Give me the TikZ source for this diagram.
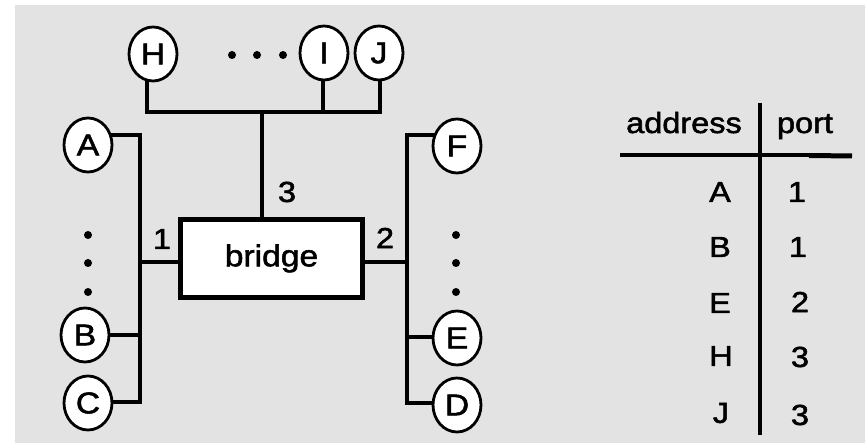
\documentclass[tikz,border=0pt]{standalone}
\usepackage{fontspec}
\setmainfont[FakeStretch=1.12,FakeBold=1.8]{Liberation Sans}
\usetikzlibrary{shapes.geometric}
\pgfdeclarelayer{back}
\pgfdeclarelayer{bg}
\pgfsetlayers{back,bg,main}
\definecolor{bggray}{HTML}{E3E3E3}
\begin{document}
\begin{tikzpicture}[x=1pt,y=-1pt,
  station/.style={draw, ellipse, fill=white, line width=2.8pt, minimum width=48pt, minimum height=54pt, inner sep=0pt, font=\fontsize{30}{32}\selectfont},
  wire/.style={line width=3.5pt},
  tline/.style={line width=3.5pt},
  lbl/.style={font=\fontsize{29}{31}\selectfont, inner sep=0pt},
  dotmark/.style={circle, fill=black, minimum size=8pt, inner sep=0pt},
  bridgebox/.style={draw, fill=white, line width=4.5pt, minimum width=182pt, minimum height=78pt, inner sep=0pt, font=\fontsize{30}{32}\selectfont}]
\useasboundingbox (0,0) rectangle (865,443);
\begin{pgfonlayer}{back}
\fill[bggray] (15,5) rectangle (865,443);
\end{pgfonlayer}

% stations
\node[station] (H) at (153,54) {H};
\node[station] (I) at (324,53) {I};
\node[station] (J) at (379,53) {J};
\node[station] (A) at (88,145) {A};
\node[station] (B) at (85,335) {B};
\node[station] (C) at (88,403) {C};
\node[station] (F) at (457,146) {F};
\node[station] (E) at (457,338) {E};
\node[station] (D) at (457,405) {D};

% dots
\node[dotmark] (t1) at (232,55) {};
\node[dotmark] (t2) at (257,55) {};
\node[dotmark] (t3d) at (283,55) {};
\node[dotmark] (l1d) at (88,235) {};
\node[dotmark] (l2d) at (88,263) {};
\node[dotmark] (l3d) at (88,292) {};
\node[dotmark] (r1d) at (456,235) {};
\node[dotmark] (r2d) at (456,263) {};
\node[dotmark] (r3d) at (456,292) {};

% bridge
\node[bridgebox] (bridge) at (271.5,258.5) {bridge};
\node[lbl] (p3) at (287,192) {3};
\node[lbl] (p1) at (162,239) {1};
\node[lbl] (p2) at (385,238) {2};

% bus coordinates
\coordinate (hl) at (147,112);
\coordinate (hr) at (380,112);
\coordinate (hi) at (323,112);
\coordinate (hb) at (262,112);
\coordinate (la) at (140,135);
\coordinate (lb) at (140,335);
\coordinate (lc) at (140,402);
\coordinate (l1) at (140,262);
\coordinate (ra) at (407,135);
\coordinate (re) at (407,337);
\coordinate (rd) at (407,403);
\coordinate (r2) at (407,262);

\begin{pgfonlayer}{bg}
\draw[wire] (H.center -| hl) -- (hl) -- (hr) -- (J.center -| hr);
\draw[wire] (I.center -| hi) -- (hi);
\draw[wire] (hb) -- (bridge.north -| hb);
\draw[wire] (A.center |- la) -- (la) -- (lc) -- (C.center |- lc);
\draw[wire] (B.center |- lb) -- (lb);
\draw[wire] (l1) -- (bridge.west |- l1);
\draw[wire] (F.center |- ra) -- (ra) -- (rd) -- (D.center |- rd);
\draw[wire] (E.center |- re) -- (re);
\draw[wire] (r2) -- (bridge.east |- r2);
\end{pgfonlayer}

% table
\node[lbl, anchor=base] (haddr) at (684,133) {address};
\node[lbl, anchor=base] (hport) at (805,133) {port};
\coordinate (tl) at (620,155);
\coordinate (tm) at (811,155);
\coordinate (tr) at (852,156);
\coordinate (tt) at (760,103);
\coordinate (tb) at (760,435);
\draw[tline] (tl) -- (tm);
\draw[line width=5pt] (tm) ++(-2,0.5) -- (tr);
\draw[tline] (tt) -- (tb);

\node[lbl] (rA) at (720,192) {A};
\node[lbl] (rB) at (720,247) {B};
\node[lbl] (rE) at (720,303) {E};
\node[lbl] (rH) at (721,356) {H};
\node[lbl] (rJ) at (721,413) {J};
\node[lbl] (n1) at (797,192) {1};
\node[lbl] (n2) at (798,247) {1};
\node[lbl] (n3) at (800,302) {2};
\node[lbl] (n4) at (800,357) {3};
\node[lbl] (n5) at (800,415) {3};
\end{tikzpicture}
\end{document}
